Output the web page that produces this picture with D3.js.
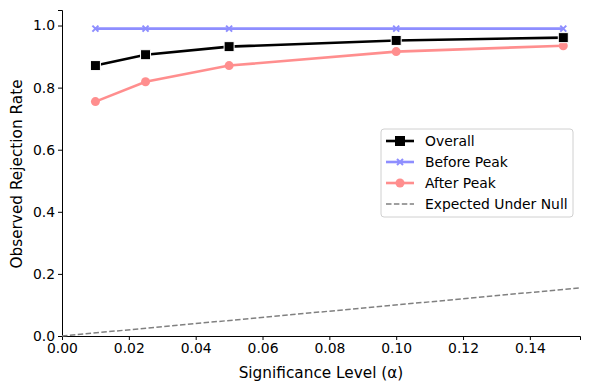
<!DOCTYPE html>
<meta charset="utf-8">
<style>
body { margin: 0; background: #fff; }
text { font-family: "DejaVu Sans", sans-serif; }
</style>
<svg width="590" height="390"></svg>
<script src="https://cdn.jsdelivr.net/npm/d3@7"></script>
<script>

var alphas = [0.01, 0.025, 0.05, 0.10, 0.15];
var overall = [0.871, 0.906, 0.932, 0.952, 0.961];
var beforePeak = [0.990, 0.990, 0.990, 0.990, 0.990];
var afterPeak = [0.755, 0.819, 0.871, 0.916, 0.935];
var nullLine = [0, 0.155];
var xTicks = [0, 0.02, 0.04, 0.06, 0.08, 0.10, 0.12, 0.14];
var yTicks = [0, 0.2, 0.4, 0.6, 0.8, 1.0];

var svg = d3.select("svg");
var x = d3.scaleLinear().domain([0, 0.155]).range([62, 580]);
var y = d3.scaleLinear().domain([0, 1.05]).range([336, 10]);

// axes
var xAxis = svg.append("g")
    .attr("transform", "translate(0,336)")
    .call(d3.axisBottom(x).tickValues(xTicks).tickFormat(d3.format(".2f")).tickSizeOuter(0).tickSize(4).tickPadding(3));
var yAxis = svg.append("g")
    .attr("transform", "translate(62,0)")
    .call(d3.axisLeft(y).tickValues(yTicks).tickFormat(d3.format(".1f")).tickSizeOuter(0).tickSize(4).tickPadding(3));
[xAxis, yAxis].forEach(function(a) {
    a.selectAll("text").style("font-size", "13.9px").attr("fill", "#000");
    a.selectAll("line").attr("stroke", "#000");
    a.select(".domain").attr("stroke", "#000");
});

svg.append("text")
    .attr("x", 321).attr("y", 378)
    .attr("text-anchor", "middle")
    .style("font-size", "15.3px")
    .text("Significance Level (α)");
svg.append("text")
    .attr("transform", "translate(22,174) rotate(-90)")
    .attr("text-anchor", "middle")
    .style("font-size", "15.3px")
    .text("Observed Rejection Rate");

// expected under null
svg.append("path")
    .datum(nullLine)
    .attr("fill", "none")
    .attr("stroke", "#808080")
    .attr("stroke-width", 1.5)
    .attr("stroke-dasharray", "5.5,2.4")
    .attr("d", d3.line().x(function(d) { return x(d); }).y(function(d) { return y(d); }));

function series(vals, color, opacity) {
    var pts = alphas.map(function(a, i) { return [a, vals[i]]; });
    var g = svg.append("g").attr("opacity", opacity);
    g.append("path")
        .datum(pts)
        .attr("fill", "none")
        .attr("stroke", color)
        .attr("stroke-width", 2.6)
        .attr("d", d3.line().x(function(d) { return x(d[0]); }).y(function(d) { return y(d[1]); }));
    return { g: g, pts: pts };
}

var red = series(afterPeak, "#ff2020", 0.5);
red.g.selectAll("circle").data(red.pts).enter().append("circle")
    .attr("cx", function(d) { return x(d[0]); })
    .attr("cy", function(d) { return y(d[1]); })
    .attr("r", 4.5).attr("fill", "#ff2020");

var blue = series(beforePeak, "#2020ff", 0.5);
blue.g.selectAll("path.mk").data(blue.pts).enter().append("path")
    .attr("class", "mk")
    .attr("transform", function(d) { return "translate(" + x(d[0]) + "," + y(d[1]) + ")"; })
    .attr("d", "M-3,-3L3,3M-3,3L3,-3")
    .attr("stroke", "#2020ff").attr("stroke-width", 2);

var blk = series(overall, "#000", 1);
blk.g.selectAll("rect").data(blk.pts).enter().append("rect")
    .attr("x", function(d) { return x(d[0]) - 5; })
    .attr("y", function(d) { return y(d[1]) - 5; })
    .attr("width", 10).attr("height", 10)
    .attr("fill", "#000").attr("stroke", "#fff").attr("stroke-width", 1);

// legend
var lg = svg.append("g").attr("transform", "translate(381,129)");
lg.append("rect").attr("width", 192).attr("height", 88).attr("rx", 3)
    .attr("fill", "#fff").attr("fill-opacity", 0.8).attr("stroke", "#d0d0d0");
var items = ["Overall", "Before Peak", "After Peak", "Expected Under Null"];
items.forEach(function(name, i) {
    var yy = 12 + i * 21;
    var it = lg.append("g").attr("transform", "translate(0," + yy + ")");
    if (i === 3) {
        it.append("line").attr("x1", 5).attr("x2", 33).attr("stroke", "#808080")
            .attr("stroke-width", 1.5).attr("stroke-dasharray", "5.5,2.4");
    } else {
        var col = ["#000", "#2020ff", "#ff2020"][i];
        var op = i === 0 ? 1 : 0.5;
        var m = it.append("g").attr("opacity", op);
        m.append("line").attr("x1", 5).attr("x2", 33).attr("stroke", col).attr("stroke-width", 2.6);
        if (i === 0) m.append("rect").attr("x", 14).attr("y", -5).attr("width", 10).attr("height", 10).attr("fill", "#000");
        if (i === 1) m.append("path").attr("transform", "translate(19,0)").attr("d", "M-3,-3L3,3M-3,3L3,-3").attr("stroke", col).attr("stroke-width", 2);
        if (i === 2) m.append("circle").attr("cx", 19).attr("r", 4.5).attr("fill", col);
    }
    it.append("text").attr("x", 44).attr("dy", "0.35em").style("font-size", "13.9px").text(name);
});

</script>
